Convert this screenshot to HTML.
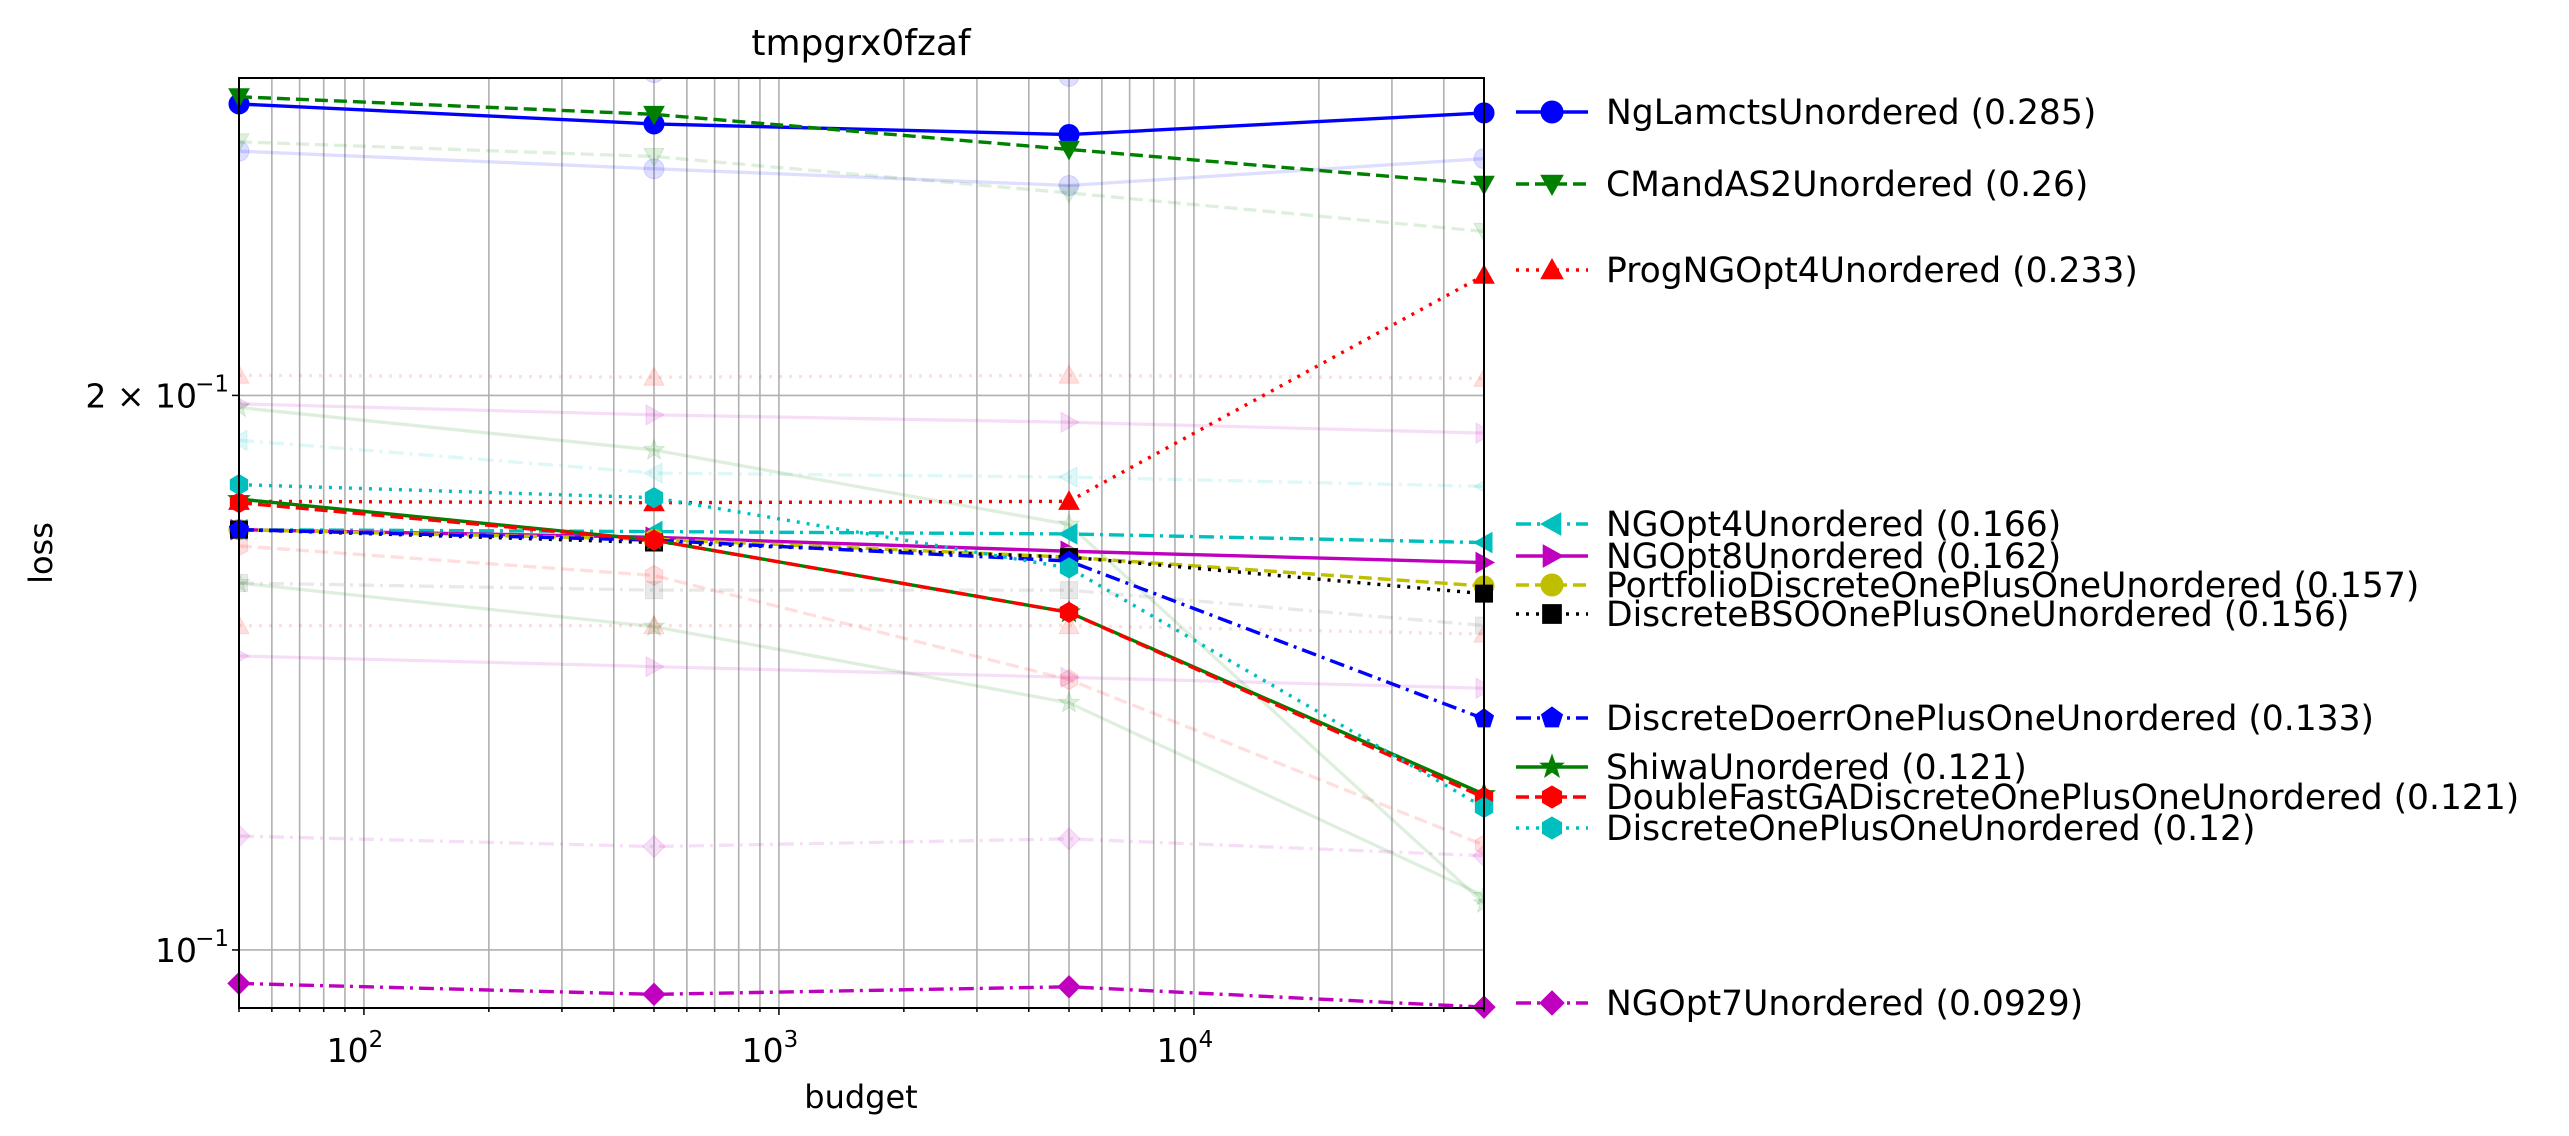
<!DOCTYPE html>
<html><head><meta charset="utf-8"><style>
html,body{margin:0;padding:0;background:#fff}
svg{display:block;font-family:"DejaVu Sans","Liberation Sans",sans-serif}
</style></head><body>
<svg id="chart" width="2569" height="1136" viewBox="0 0 2569 1136" xmlns="http://www.w3.org/2000/svg">
<rect width="2569" height="1136" fill="#fff"/>
<defs><clipPath id="pc"><rect x="239" y="78" width="1245" height="930"/></clipPath><clipPath id="pc2"><rect x="227" y="66" width="1269" height="954"/></clipPath></defs>
<g id="grid"></g>
<g id="faint" clip-path="url(#pc)"></g>
<g id="series" clip-path="url(#pc2)"></g>
<rect x="239" y="78" width="1245" height="930" fill="none" stroke="#000" stroke-width="2"/>
<g id="ticks"></g>
<text x="861" y="55" font-size="36" text-anchor="middle">tmpgrx0fzaf</text>
<text x="861" y="1108" font-size="32" text-anchor="middle">budget</text>
<text x="52" y="553" font-size="32" text-anchor="middle" transform="rotate(-90 52 553)">loss</text>
<g id="legend"></g>
</svg>
<script>
const budgets = [50, 500, 5000, 50000];
const seriesNames = ["NgLamctsUnordered (0.285)","CMandAS2Unordered (0.26)","ProgNGOpt4Unordered (0.233)","NGOpt4Unordered (0.166)","NGOpt8Unordered (0.162)","PortfolioDiscreteOnePlusOneUnordered (0.157)","DiscreteBSOOnePlusOneUnordered (0.156)","DiscreteDoerrOnePlusOneUnordered (0.133)","ShiwaUnordered (0.121)","DoubleFastGADiscreteOnePlusOneUnordered (0.121)","DiscreteOnePlusOneUnordered (0.12)","NGOpt7Unordered (0.0929)"];
const sNgLamcts = [0.2879, 0.2808, 0.2771, 0.2847];
const sCMandAS2 = [0.2905, 0.2842, 0.2720, 0.2604];
const sProgNGOpt4 = [0.1752, 0.1749, 0.1752, 0.2324];
const sNGOpt4 = [0.1691, 0.1687, 0.1682, 0.1664];
const sNGOpt8 = [0.1691, 0.1675, 0.1646, 0.1623];
const sPortfolio = [0.1691, 0.1671, 0.1634, 0.1576];
const sBSO = [0.1691, 0.1664, 0.1634, 0.1561];
const sDoerr = [0.1691, 0.1669, 0.1626, 0.1335];
const sShiwa = [0.1757, 0.1669, 0.1525, 0.1215];
const sDoubleFast = [0.1749, 0.1669, 0.1525, 0.1210];
const sDiscrete11 = [0.1789, 0.1760, 0.1612, 0.1195];
const sNGOpt7 = [0.0959, 0.0946, 0.0955, 0.0931];
const faintValues = [
 [0.3008,0.2994,0.2980,0.3008],[0.2714,0.2655,0.2600,0.2689],[0.2746,0.2696,0.2576,0.2455],
 [0.2051,0.2046,0.2051,0.2043],[0.1979,0.1952,0.1934,0.1908],[0.1970,0.1868,0.1702,0.1060],
 [0.1891,0.1815,0.1806,0.1785],[0.1153,0.1138,0.1149,0.1125],[0.1444,0.1425,0.1406,0.1387],
 [0.1582,0.1498,0.1362,0.1070],[0.1500,0.1500,0.1500,0.1484],[0.1657,0.1597,0.1402,0.1140],
 [0.1582,0.1568,0.1568,0.1500]];
const yTickVals = [0.1, 0.2];
const yTickLabels = ["10","2 × 10"];
const xTickVals = [100, 1000, 10000];
const xTickExp = ["2","3","4"];

const L=239,R=1484,T=78,B=1008, XMIN=50, XMAX=50000, YMIN=0.0930, YMAX=0.2974;
const sx=v=>L+(Math.log10(v)-Math.log10(XMIN))/(Math.log10(XMAX)-Math.log10(XMIN))*(R-L);
const sy=v=>B-(Math.log10(v)-Math.log10(YMIN))/(Math.log10(YMAX)-Math.log10(YMIN))*(B-T);
const NS="http://www.w3.org/2000/svg";
function mk(tag,attrs,parent){const e=document.createElementNS(NS,tag);for(const k in attrs)e.setAttribute(k,attrs[k]);parent.appendChild(e);return e;}
const grid=document.getElementById('grid');
for(let d=1;d<=4;d++)for(let m=1;m<10;m++){const v=m*Math.pow(10,d);if(v<XMIN||v>XMAX)continue;const x=sx(v);
 const g=mk('line',{x1:x,x2:x,y1:T,y2:B,stroke:'#b0b0b0','stroke-width':1.6},grid);
 
 }
yTickVals.forEach(v=>{const g=mk('line',{x1:L,x2:R,y1:sy(v),y2:sy(v),stroke:'#b0b0b0','stroke-width':1.6},grid);
 
 });
const ticks=document.getElementById('ticks');
for(let d=1;d<=4;d++)for(let m=1;m<10;m++){const v=m*Math.pow(10,d);if(v<XMIN||v>XMAX)continue;const x=sx(v);
 const t=mk('line',{x1:x,x2:x,y1:B,y2:B+(m==1?7:4),stroke:'#000','stroke-width':1.5},ticks);
 
 }
xTickVals.forEach((v,i)=>{const t=mk('text',{x:sx(v)-9,y:B+54,'font-size':33,'text-anchor':'middle'},ticks);
 
 
 t.textContent='10';const s=mk('tspan',{dy:-15,'font-size':23},t);s.textContent=xTickExp[i];});
yTickVals.forEach((v,i)=>{const y=sy(v);mk('line',{x1:L-7,x2:L,y1:y,y2:y,stroke:'#000','stroke-width':1.5},ticks);
 const t=mk('text',{x:L-42,y:y+12,'font-size':33,'text-anchor':'end'},ticks);
 
 
 t.textContent=yTickLabels[i];const s=mk('tspan',{x:L-10,y:y-4,'font-size':23,'text-anchor':'end'},t);s.textContent='−1';});
function marker(type,x,y,r,color,parent,alpha){
 let e;const a={fill:color,'fill-opacity':alpha,stroke:color,'stroke-opacity':alpha,'stroke-width':1};
 const poly=(pts)=>mk('polygon',Object.assign({points:pts.map(p=>(x+p[0]*r)+','+(y+p[1]*r)).join(' ')},a),parent);
 const reg=(n,rot)=>{const p=[];for(let i=0;i<n;i++){const t=rot+i*2*Math.PI/n;p.push([Math.cos(t),Math.sin(t)]);}return poly(p);};
 switch(type){
 case 'o':e=mk('circle',Object.assign({cx:x,cy:y,r:r},a),parent);break;
 case 'v':e=poly([[-1,-0.8],[1,-0.8],[0,1]]);break;
 case '^':e=poly([[-1,0.8],[1,0.8],[0,-1]]);break;
 case '<':e=poly([[0.8,-1],[0.8,1],[-1,0]]);break;
 case '>':e=poly([[-0.8,-1],[-0.8,1],[1,0]]);break;
 case 's':e=poly([[-0.85,-0.85],[0.85,-0.85],[0.85,0.85],[-0.85,0.85]]);break;
 case 'p':e=reg(5,-Math.PI/2);break;
 case 'h':e=reg(6,-Math.PI/2);break;
 case 'D':e=poly([[0,-1.1],[1.1,0],[0,1.1],[-1.1,0]]);break;
 case '*':{const p=[];for(let i=0;i<10;i++){const t=-Math.PI/2+i*Math.PI/5;const rr=i%2?0.45:1.1;p.push([rr*Math.cos(t),rr*Math.sin(t)]);}e=poly(p);break;}
 }
 return e;}
const dashes={'-':'none','--':'13,6','::':'3,7','-.':'15,6,3,6'};
const mainSeries=[
 [sNgLamcts,'#0000ff','-','o'],[sCMandAS2,'#008000','--','v'],[sProgNGOpt4,'#ff0000','::','^'],
 [sNGOpt4,'#00bfbf','-.','<'],[sNGOpt8,'#bf00bf','-','>'],[sPortfolio,'#bfbf00','--','o'],
 [sBSO,'#000000','::','s'],[sDoerr,'#0000ff','-.','p'],[sShiwa,'#008000','-','*'],
 [sDoubleFast,'#ff0000','--','h'],[sDiscrete11,'#00bfbf','::','h'],[sNGOpt7,'#bf00bf','-.','D']];
const faintStyles=[['#0000ff','-','o'],['#0000ff','-','o'],['#008000','--','v'],['#ff0000','::','^'],['#bf00bf','-','>'],['#008000','-','*'],['#00bfbf','-.','<'],['#bf00bf','-.','D'],['#bf00bf','-','>'],['#008000','-','*'],['#ff0000','::','^'],['#ff0000','--','h'],['#555555','-.','s']];
const faint=document.getElementById('faint');
faintValues.forEach((vals,i)=>{const [c,ls,m]=faintStyles[i];
 const pl=mk('polyline',{points:vals.map((v,j)=>sx(budgets[j])+','+sy(v)).join(' '),fill:'none',stroke:c,'stroke-opacity':0.13,'stroke-width':3.3,'stroke-dasharray':dashes[ls]},faint);
 
 
 vals.forEach((v,j)=>{const mm=marker(m,sx(budgets[j]),sy(v),10,c,faint,0.13);
 
 });});
const sg=document.getElementById('series');
mainSeries.forEach((s,i)=>{const [vals,c,ls,m]=s;
 const pl=mk('polyline',{points:vals.map((v,j)=>sx(budgets[j])+','+sy(v)).join(' '),fill:'none',stroke:c,'stroke-width':3.4,'stroke-dasharray':dashes[ls]},sg);
 
 
 vals.forEach((v,j)=>{const mm=marker(m,sx(budgets[j]),sy(v),10,c,sg,1);
 
 });});
const legendY=[112,184,270,524,556,585,614,718,767,797,828,1003];
const lg=document.getElementById('legend');
mainSeries.forEach((s,i)=>{const [vals,c,ls,m]=s;const y=legendY[i];
 const g=mk('g',{},lg);
 
 
 mk('line',{x1:1516,x2:1588,y1:y,y2:y,stroke:c,'stroke-width':3.4,'stroke-dasharray':dashes[ls]},g);
 marker(m,1552,y,11,c,g,1);
 const t=mk('text',{x:1606,y:y+12,'font-size':34.5},g);t.textContent=seriesNames[i];});
</script>
</body></html>
